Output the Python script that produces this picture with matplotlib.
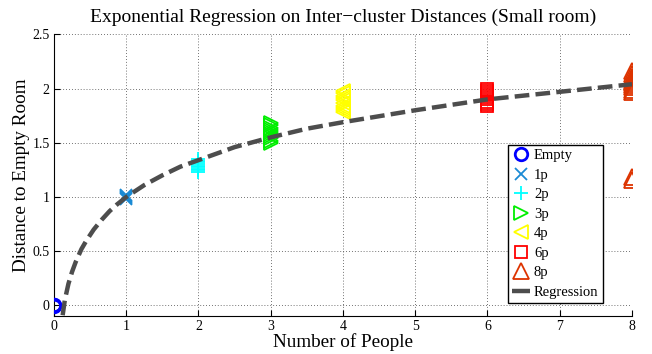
import matplotlib
matplotlib.use("Agg")
import matplotlib.pyplot as plt

plt.rcParams['font.family'] = ['Liberation Serif', 'DejaVu Serif']
plt.rcParams['mathtext.fontset'] = 'stix'

# ---- data ----
x_empty = [0, 0, 0]
y_empty = [-0.005, 0.0, 0.005]

x_1p = [1, 1, 1, 1, 1]
y_1p = [0.98, 0.99, 1.0, 1.01, 1.02]

x_2p = [2] * 9
y_2p = [1.23, 1.245, 1.26, 1.275, 1.29, 1.305, 1.32, 1.335, 1.35]

x_3p = [3] * 10
y_3p = [1.50, 1.52, 1.54, 1.56, 1.58, 1.60, 1.62, 1.64, 1.66, 1.68]

x_4p = [4] * 10
y_4p = [1.78, 1.80, 1.82, 1.84, 1.87, 1.89, 1.91, 1.93, 1.96, 1.98]

x_6p = [6] * 9
y_6p = [1.84, 1.86, 1.88, 1.90, 1.92, 1.94, 1.96, 1.98, 2.00]

x_8p = [8] * 12
y_8p = [1.16, 1.18, 1.97, 1.99, 2.01, 2.03, 2.05, 2.07, 2.09, 2.11, 2.13, 2.16]

reg_x = [0.12, 0.15, 0.2, 0.25, 0.3, 0.38, 0.45, 0.55, 0.66, 0.77, 0.87, 1.0,
         1.25, 1.5, 1.75, 2.0, 2.5, 3.0, 3.5, 4.0, 5.0, 6.0, 7.0, 8.0]
reg_y = [-0.09, 0.05, 0.20, 0.31, 0.40, 0.52, 0.60, 0.70, 0.79, 0.87, 0.93, 1.0,
         1.11, 1.20, 1.28, 1.34, 1.46, 1.55, 1.63, 1.69, 1.80, 1.90, 1.97, 2.04]

xticks = [0, 1, 2, 3, 4, 5, 6, 7, 8]
yticks = [0, 0.5, 1, 1.5, 2, 2.5]
ytick_labels = ['0', '0.5', '1', '1.5', '2', '2.5']

# ---- figure ----
fig = plt.figure(figsize=(6.52, 3.54), dpi=100)
ax = fig.add_axes([0.0828, 0.108, 0.8865, 0.795])

mew = 1.3
ax.plot(x_empty, y_empty, 'o', ms=9, mfc='none', mec='#0000ff', mew=2.0, ls='none', label='Empty', zorder=3)
ax.plot(x_1p, y_1p, 'x', ms=8, mec='#1a8ad4', mew=mew, ls='none', label='1p', zorder=3)
ax.plot(x_2p, y_2p, '+', ms=9.5, mec='#00ffff', mew=mew, ls='none', label='2p', zorder=3)
ax.plot(x_3p, y_3p, '>', ms=10, mfc='none', mec='#00ee00', mew=mew, ls='none', label='3p', zorder=3)
ax.plot(x_4p, y_4p, '<', ms=10.5, mfc='none', mec='#ffff00', mew=mew, ls='none', label='4p', zorder=3)
ax.plot(x_6p, y_6p, 's', ms=8, mfc='none', mec='#ff0000', mew=mew, ls='none', label='6p', zorder=3)
ax.plot(x_8p, y_8p, '^', ms=11, mfc='none', mec='#dd3300', mew=mew, ls='none', label='8p', zorder=3)

line, = ax.plot(reg_x, reg_y, color='#4d4d4d', lw=3.2, label='Regression', zorder=4,
                solid_capstyle='butt', dash_capstyle='butt')
line.set_dashes([3.3, 1.4])

ax.set_xlim(0, 8)
ax.set_ylim(-0.095, 2.5)
ax.set_xticks(xticks)
ax.set_yticks(yticks)
ax.set_yticklabels(ytick_labels)

ax.grid(True, linestyle=(0, (1, 2.5)), color='#444444', linewidth=0.6)
ax.set_axisbelow(True)
for s in ['top', 'right']:
    ax.spines[s].set_visible(False)
for s in ['left', 'bottom']:
    ax.spines[s].set_linewidth(0.8)
ax.tick_params(direction='in', length=4, width=0.8, labelsize=10, pad=3)

ax.set_title('Exponential Regression on Inter\u2212cluster Distances (Small room)',
             fontsize=14, pad=9)
ax.set_xlabel('Number of People', fontsize=13.8, labelpad=0)
ax.set_ylabel('Distance to Empty Room', fontsize=13.8, labelpad=2)

leg = ax.legend(loc='lower left', bbox_to_anchor=(0.785, 0.045), fontsize=10.5,
                frameon=True, fancybox=False, edgecolor='black', framealpha=1,
                handlelength=1.2, handletextpad=0.3, borderpad=0.3,
                labelspacing=0.43, borderaxespad=0.0)
leg.get_frame().set_linewidth(1.0)
leg.get_lines()[-1].set_dashes([])
leg.get_lines()[-1].set_linestyle('-')

fig.savefig('out.png', dpi=100)
